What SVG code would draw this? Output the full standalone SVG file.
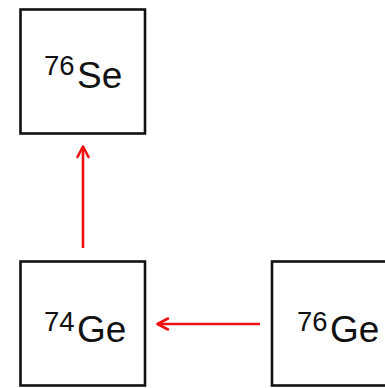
<svg xmlns="http://www.w3.org/2000/svg" width="385" height="388" viewBox="0 0 385 388">
  <style>
    .box { fill: #ffffff; stroke: #111111; stroke-width: 2.6; }
    .lbl { font-family: "Liberation Sans", Arial, Helvetica, sans-serif; fill: #111111; }
    .el { font-size: 37px; }
    .mass { font-size: 27.5px; }
    .link { fill: none; stroke: #ee1111; stroke-width: 2.6; }
    .head { fill: none; stroke: #ee1111; stroke-width: 2.6; stroke-linecap: round; stroke-linejoin: round; }
  </style>
  <rect width="385" height="388" fill="#ffffff"/>

  <g id="se76">
    <rect class="box" x="20.5" y="9.5" width="124.5" height="124"/>
    <text class="lbl mass" x="44" y="75">76</text>
    <text class="lbl el" x="77" y="88">Se</text>
  </g>

  <g id="ge74">
    <rect class="box" x="20.5" y="261.5" width="124.5" height="124"/>
    <text class="lbl mass" x="44" y="331">74</text>
    <text class="lbl el" x="77" y="342">Ge</text>
  </g>

  <g id="ge76">
    <rect class="box" x="272" y="261.5" width="124.5" height="124"/>
    <text class="lbl mass" x="297" y="331">76</text>
    <text class="lbl el" x="330" y="342">Ge</text>
  </g>

  <g id="connectors">
    <line class="link" x1="83" y1="248" x2="83" y2="147"/>
    <polyline class="head" points="77.5,157 83,146.5 88.5,157"/>
    <line class="link" x1="260" y1="324" x2="158" y2="324"/>
    <polyline class="head" points="168,318.5 157.5,324 168,329.5"/>
  </g>
</svg>
